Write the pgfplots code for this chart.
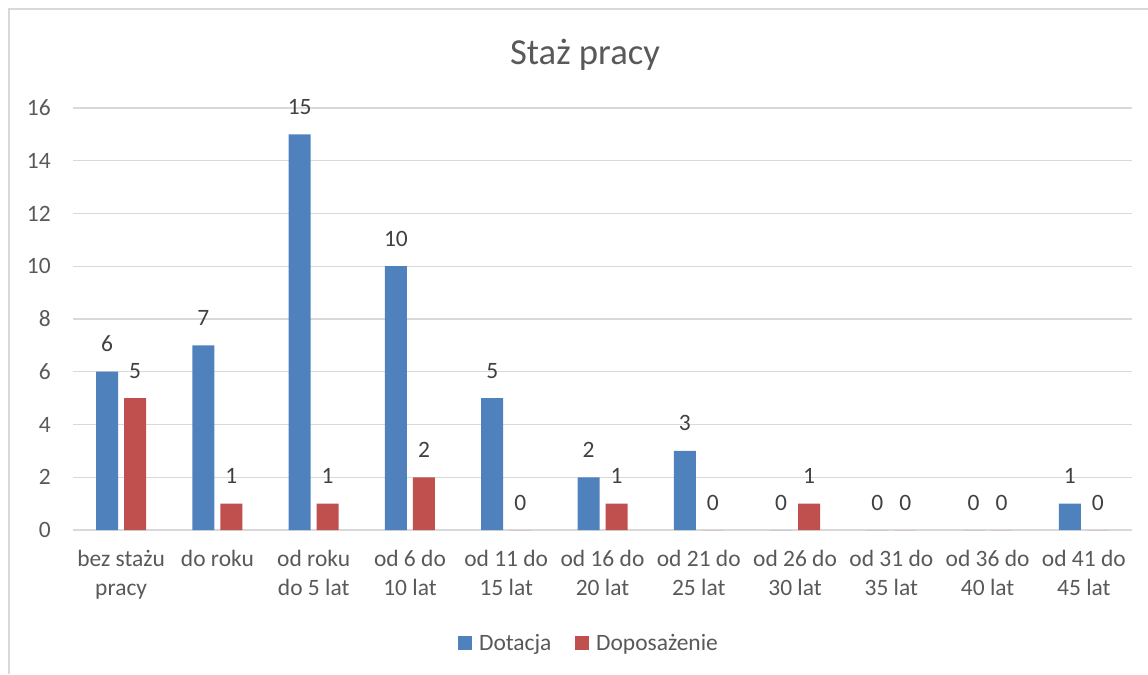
\documentclass[border=0pt]{standalone}
\usepackage{fontspec}
\setmainfont{Carlito}
\usepackage{pgfplots}
\pgfplotsset{compat=1.18}
\definecolor{cblue}{HTML}{4F81BD}
\definecolor{cred}{HTML}{C0504D}
\definecolor{cgrid}{HTML}{D9D9D9}
\definecolor{ctext}{HTML}{595959}
\definecolor{clab}{HTML}{404040}
\begin{document}
\begin{tikzpicture}
\path[use as bounding box] (0pt,0pt) rectangle (861pt,505.5pt);
\draw[cgrid, line width=1.1pt] (6.75pt,0pt) -- (6.75pt,498.75pt) -- (861pt,498.75pt);
\node[font=\fontsize{27.5}{33}\selectfont, text=ctext] at (438.75pt,464.25pt) {Staż pracy};
\begin{axis}[
  at={(54.75pt,108pt)}, anchor=south west,
  scale only axis, width=794.25pt, height=316.5pt,
  xmin=-0.5, xmax=10.5, ymin=0, ymax=16,
  ytick={0,2,...,16},
  xtick={0,...,10},
  xticklabels={{bez stażu\\pracy},{do roku},{od roku\\do 5 lat},{od 6 do\\10 lat},{od 11 do\\15 lat},{od 16 do\\20 lat},{od 21 do\\25 lat},{od 26 do\\30 lat},{od 31 do\\35 lat},{od 36 do\\40 lat},{od 41 do\\45 lat}},
  ybar=4.5pt, bar width=16.5pt,
  axis line style={draw=none},
  major tick length=0pt,
  ymajorgrids, grid style={cgrid, line width=1.1pt},
  /pgf/number format/assume math mode=true,
  ticklabel style={font=\fontsize{17.6}{21.75}\selectfont, text=ctext},
  yticklabel style={inner sep=0pt, xshift=-16.5pt},
  xticklabel style={align=center, inner sep=0pt, anchor=north, yshift=-15pt},
  nodes near coords,
  every node near coord/.append style={font=\fontsize{17.6}{21.75}\selectfont, text=clab, inner sep=0pt, anchor=south, yshift=14.6pt, /pgf/number format/assume math mode=true},
  legend columns=2,
  legend style={draw=none, at={(0.4877,-0.2678)}, anchor=center, font=\fontsize{17.6}{21.75}\selectfont, text=ctext,
    /tikz/every odd column/.append style={column sep=3pt},
    /tikz/every even column/.append style={column sep=16pt}},
  legend image code/.code={\fill[#1] (0pt,-5.25pt) rectangle (10.5pt,5.25pt);},
]
\addplot[fill=cblue, draw=none] coordinates {(0,6) (1,7) (2,15) (3,10) (4,5) (5,2) (6,3) (7,0) (8,0) (9,0) (10,1)};
\addplot[fill=cred, draw=none] coordinates {(0,5) (1,1) (2,1) (3,2) (4,0) (5,1) (6,0) (7,1) (8,0) (9,0) (10,0)};
\legend{Dotacja, Doposażenie}
\end{axis}
\end{tikzpicture}
\end{document}
